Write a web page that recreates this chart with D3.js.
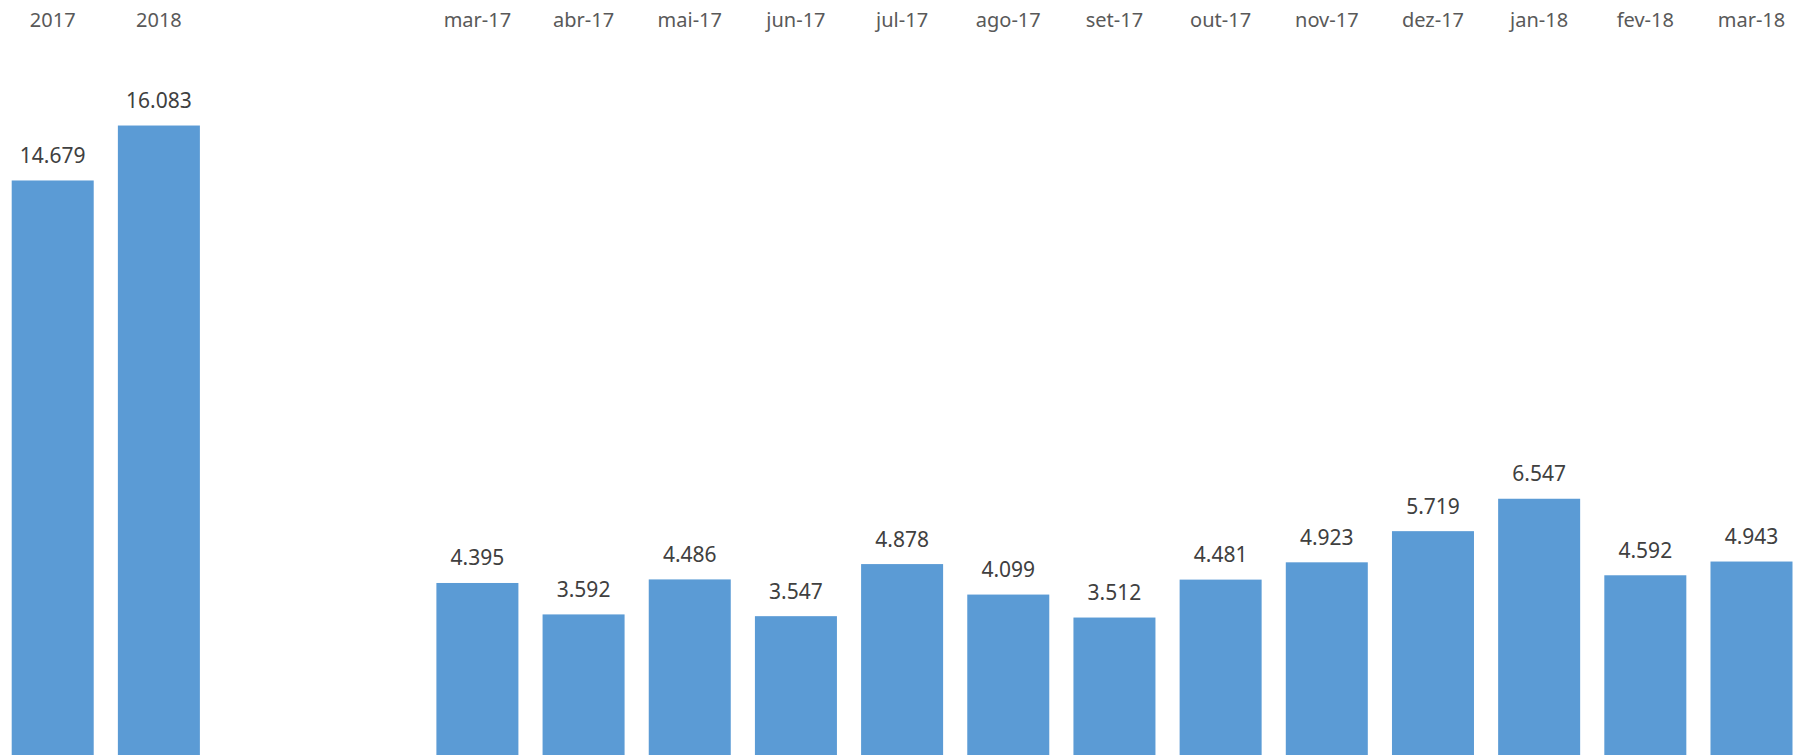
<!DOCTYPE html>
<html>
<head>
<meta charset="utf-8">
<script src="https://cdn.jsdelivr.net/npm/d3@7"></script>
<style>
  html, body { margin: 0; padding: 0; background: #ffffff; }
  svg { display: block; }
</style>
</head>
<body>
<svg id="chart" width="1793" height="755"></svg>
<script>
// Data
const annualCategories = ["2017", "2018"];
const annualValues = [14679, 16083];
const monthlyCategories = ["mar-17", "abr-17", "mai-17", "jun-17", "jul-17", "ago-17", "set-17", "out-17", "nov-17", "dez-17", "jan-18", "fev-18", "mar-18"];
const monthlyValues = [4395, 3592, 4486, 3547, 4878, 4099, 3512, 4481, 4923, 5719, 6547, 4592, 4943];
const gapSlots = ["gap-a", "gap-b"];

const W = 1793, H = 755;
const svg = d3.select("#chart");

const rows = annualCategories.map((c, i) => ({ key: c, label: c, value: annualValues[i] }))
  .concat(monthlyCategories.map((c, i) => ({ key: c, label: c, value: monthlyValues[i] })));

const x = d3.scaleBand()
  .domain(annualCategories.concat(gapSlots, monthlyCategories))
  .range([11.7, 1792.5])
  .paddingInner(0.2276)
  .paddingOuter(0);

const y = d3.scaleLinear().domain([0, 19290]).range([755, 0]);

const fmt = v => d3.format(",")(v).replace(/,/g, ".");

svg.append("g").selectAll("rect")
  .data(rows)
  .join("rect")
  .attr("x", d => x(d.key))
  .attr("y", d => y(d.value))
  .attr("width", x.bandwidth())
  .attr("height", d => y(0) - y(d.value))
  .attr("fill", "#5B9BD5");

// top category labels (axis at top)
const axis = d3.axisTop(x).tickSize(0).tickPadding(0)
  .tickValues(annualCategories.concat(monthlyCategories));
const ax = svg.append("g").attr("transform", "translate(0,26.7)").call(axis);
ax.select(".domain").remove();
ax.selectAll("text")
  .attr("font-family", "'Noto Sans', 'Open Sans', sans-serif")
  .attr("font-size", "20px")
  .attr("fill", "#595959")
  .attr("dy", "0");

// value labels
svg.append("g").selectAll("text")
  .data(rows)
  .join("text")
  .attr("x", d => x(d.key) + x.bandwidth() / 2)
  .attr("y", d => y(d.value) - 17.5)
  .attr("text-anchor", "middle")
  .attr("font-family", "'Noto Sans', 'Open Sans', sans-serif")
  .attr("font-size", "21px")
  .attr("fill", "#404040")
  .text(d => fmt(d.value));
</script>
</body>
</html>
